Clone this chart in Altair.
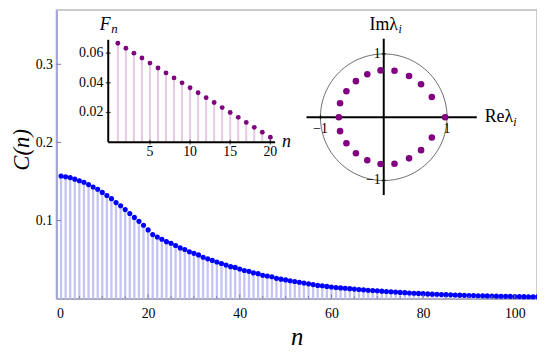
import altair as alt
import pandas as pd

# ---------------- data ----------------
n_main = list(range(1, 106))
C_vals = [
    0.157, 0.156, 0.155, 0.153, 0.151, 0.149, 0.146, 0.143, 0.140, 0.136,
    0.132, 0.128, 0.123, 0.119, 0.114, 0.109, 0.104, 0.099, 0.094, 0.088,
    0.082, 0.079, 0.076, 0.073, 0.071, 0.068, 0.065, 0.063, 0.060, 0.058,
    0.056, 0.053, 0.051, 0.049, 0.047, 0.045, 0.043, 0.041, 0.040, 0.038,
    0.036, 0.035, 0.033, 0.032, 0.030, 0.029, 0.028, 0.026, 0.025, 0.024,
    0.023, 0.022, 0.021, 0.020, 0.019, 0.018, 0.017, 0.0165, 0.0157, 0.0150,
    0.0143, 0.0138, 0.0133, 0.0128, 0.0123, 0.0118, 0.0113, 0.0108, 0.0104, 0.0100,
    0.0096, 0.0092, 0.0088, 0.0084, 0.0080, 0.0077, 0.0073, 0.0070, 0.0067, 0.0064,
    0.0061, 0.0058, 0.0056, 0.0053, 0.0051, 0.0049, 0.0047, 0.0045, 0.0043, 0.0041,
    0.0040, 0.0038, 0.0036, 0.0035, 0.0034, 0.0032, 0.0031, 0.0030, 0.0029, 0.0028,
    0.0027, 0.0026, 0.0025, 0.0024, 0.0023,
]
main_x_ticks = [0, 20, 40, 60, 80, 100]
main_y_ticks = [0.1, 0.2, 0.3]
main_x_minor = list(range(5, 105, 5))

n_inset = list(range(1, 21))
F_vals = [0.0667, 0.0633, 0.0600, 0.0567, 0.0533, 0.0500, 0.0467, 0.0433, 0.0400, 0.0367,
          0.0333, 0.0300, 0.0267, 0.0233, 0.0200, 0.0167, 0.0133, 0.0100, 0.0067, 0.0033]
inset_x_ticks = [5, 10, 15, 20]
inset_y_ticks = [0.02, 0.04, 0.06]

eig_re = [0.97, 0.76, 0.59, 0.40, 0.17, -0.05, -0.26, -0.44, -0.59, -0.69,
          -0.71, -0.69, -0.59, -0.44, -0.26, -0.05, 0.17, 0.40, 0.59, 0.76]
eig_im = [0.0, 0.32, 0.52, 0.65, 0.735, 0.74, 0.68, 0.57, 0.41, 0.22,
          0.0, -0.22, -0.41, -0.57, -0.68, -0.74, -0.735, -0.65, -0.52, -0.32]
circle_ticks_x = [-1, 1]
circle_ticks_y = [-1, 1]

# ---------------- style ----------------
SERIF = "Liberation Serif"
W, H = 486, 292
one = pd.DataFrame({"a": [0]})

# ---------------- main plot ----------------
xs_main = alt.Scale(domain=[0, 104.85], range=[0, W], nice=False, zero=False)
ys_main = alt.Scale(domain=[0, 0.3696], range=[H, 0], nice=False, zero=False)
x_axis = alt.Axis(values=main_x_ticks, format="d", ticks=False, grid=False,
                  labelFont=SERIF, labelFontSize=14, labelColor="black", labelPadding=8,
                  domainColor="#8c8cb4", domainWidth=1,
                  title="n", titleFont=SERIF, titleFontSize=25, titleFontStyle="italic",
                  titleFontWeight="normal", titleColor="black",
                  titleBaseline="alphabetic", titleY=46)
y_axis = alt.Axis(values=main_y_ticks, format=".1f", ticks=False, grid=False,
                  labelFont=SERIF, labelFontSize=14, labelColor="black", labelPadding=4,
                  domainColor="#a4a4dc", domainWidth=2,
                  title="C(n)", titleFont=SERIF, titleFontSize=23, titleFontStyle="italic",
                  titleFontWeight="normal", titleColor="black", titleAngle=-90,
                  titleBaseline="alphabetic", titleAlign="center", titleX=-28, titleY=141)

main_df = pd.DataFrame({"n": n_main, "C": C_vals})
mbase = alt.Chart(main_df)
m_stems = mbase.mark_rule(color="#c4c4f4", strokeWidth=2.3).encode(
    x=alt.X("n:Q", scale=xs_main, axis=x_axis),
    y=alt.Y("C:Q", scale=ys_main, axis=y_axis),
    y2=alt.Y2Datum(0),
)
m_dots = mbase.mark_circle(color="#0000ff", size=27, opacity=1).encode(
    x=alt.X("n:Q", scale=xs_main, axis=x_axis),
    y=alt.Y("C:Q", scale=ys_main, axis=y_axis),
)
m_xticks = alt.Chart(pd.DataFrame({"t": main_x_minor})).transform_calculate(
    z="0", L="datum.t % 20 == 0 ? 0.0055 : 0.0032"
).mark_rule(color="#7c7ca4", strokeWidth=1).encode(
    x=alt.X("t:Q", scale=xs_main, axis=x_axis),
    y=alt.Y("z:Q", scale=ys_main, axis=y_axis),
    y2="L:Q",
)
m_yticks = alt.Chart(pd.DataFrame({"t": main_y_ticks})).transform_calculate(
    z="0", L="1.0"
).mark_rule(color="#7c7ca4", strokeWidth=1).encode(
    x=alt.X("z:Q", scale=xs_main, axis=x_axis),
    x2="L:Q",
    y=alt.Y("t:Q", scale=ys_main, axis=y_axis),
)
main = alt.layer(m_stems, m_dots, m_xticks, m_yticks)

# ---------------- inset 1: F_n ----------------
xs1 = alt.Scale(domain=[0, 20], range=[54, 216.3], nice=False, zero=False)
ys1 = alt.Scale(domain=[0, 0.06], range=[133.7, 43.7], nice=False, zero=False)
f_df = pd.DataFrame({"n": n_inset, "F": F_vals})
fbase = alt.Chart(f_df)
f_stems = fbase.mark_rule(color="#e8c8e8", strokeWidth=2).encode(
    x=alt.X("n:Q", scale=xs1, axis=None),
    y=alt.Y("F:Q", scale=ys1, axis=None),
    y2=alt.Y2Datum(0),
)
f_dots = fbase.mark_circle(color="#800080", size=24, opacity=1).encode(
    x=alt.X("n:Q", scale=xs1, axis=None),
    y=alt.Y("F:Q", scale=ys1, axis=None),
)
f_xaxis = alt.Chart(one).mark_rule(color="black", strokeWidth=2).encode(
    x=alt.XDatum(-0.2, scale=xs1, axis=None, type="quantitative"),
    x2=alt.X2Datum(20.6),
    y=alt.YDatum(0, scale=ys1, axis=None, type="quantitative"),
)
f_yaxis = alt.Chart(one).mark_rule(color="black", strokeWidth=2).encode(
    x=alt.XDatum(-0.2, scale=xs1, axis=None, type="quantitative"),
    y=alt.YDatum(0, scale=ys1, axis=None, type="quantitative"),
    y2=alt.Y2Datum(0.069),
)
fx_df = pd.DataFrame({"t": inset_x_ticks})
fy_df = pd.DataFrame({"t": inset_y_ticks})
f_xt = alt.Chart(fx_df).mark_tick(orient="vertical", color="black", size=5, thickness=1.2).encode(
    x=alt.X("t:Q", scale=xs1, axis=None),
    y=alt.YDatum(0, scale=ys1, axis=None, type="quantitative"),
)
f_yt = alt.Chart(fy_df).mark_tick(orient="horizontal", color="black", size=5, thickness=1.2).encode(
    x=alt.XDatum(-0.2, scale=xs1, axis=None, type="quantitative"),
    y=alt.Y("t:Q", scale=ys1, axis=None),
)
f_xl = alt.Chart(fx_df).mark_text(font=SERIF, fontSize=14, color="black", baseline="top", dy=3).encode(
    x=alt.X("t:Q", scale=xs1, axis=None),
    y=alt.YDatum(0, scale=ys1, axis=None, type="quantitative"),
    text=alt.Text("t:Q", format="d"),
)
f_yl = alt.Chart(fy_df).mark_text(font=SERIF, fontSize=14, color="black", align="right",
                                  baseline="middle", dx=-5).encode(
    x=alt.XDatum(-0.2, scale=xs1, axis=None, type="quantitative"),
    y=alt.Y("t:Q", scale=ys1, axis=None),
    text=alt.Text("t:Q", format=".2f"),
)
f_title_F = alt.Chart(one).mark_text(text="F", font=SERIF, fontSize=18, fontStyle="italic",
                                     color="black", align="center", baseline="alphabetic",
                                     dx=-3, dy=-10).encode(
    x=alt.XDatum(-0.2, scale=xs1, axis=None, type="quantitative"),
    y=alt.YDatum(0.069, scale=ys1, axis=None, type="quantitative"),
)
f_title_n = alt.Chart(one).mark_text(text="n", font=SERIF, fontSize=13, fontStyle="italic",
                                     color="black", align="left", baseline="alphabetic",
                                     dx=3, dy=-7).encode(
    x=alt.XDatum(-0.2, scale=xs1, axis=None, type="quantitative"),
    y=alt.YDatum(0.069, scale=ys1, axis=None, type="quantitative"),
)
f_xlabel = alt.Chart(one).mark_text(text="n", font=SERIF, fontSize=18, fontStyle="italic",
                                    color="black", align="left", baseline="alphabetic",
                                    dx=7, dy=5).encode(
    x=alt.XDatum(20.6, scale=xs1, axis=None, type="quantitative"),
    y=alt.YDatum(0, scale=ys1, axis=None, type="quantitative"),
)
inset1 = alt.layer(f_stems, f_xaxis, f_yaxis, f_xt, f_yt, f_dots, f_xl, f_yl,
                   f_title_F, f_title_n, f_xlabel)

# ---------------- inset 2: eigenvalues on unit circle ----------------
xs2 = alt.Scale(domain=[-1, 1], range=[267, 395], nice=False, zero=False)
ys2 = alt.Scale(domain=[-1, 1], range=[172.5, 44.5], nice=False, zero=False)
circ = alt.Chart(alt.sequence(0, 362, 2, as_="t")).transform_calculate(
    cx="cos(datum.t*PI/180)", cy="sin(datum.t*PI/180)"
).mark_line(color="#444444", strokeWidth=0.8).encode(
    x=alt.X("cx:Q", scale=xs2, axis=None),
    y=alt.Y("cy:Q", scale=ys2, axis=None),
    order="t:Q",
)
c_hax = alt.Chart(one).mark_rule(color="black", strokeWidth=2).encode(
    x=alt.XDatum(-1.22, scale=xs2, axis=None, type="quantitative"),
    x2=alt.X2Datum(1.47),
    y=alt.YDatum(0, scale=ys2, axis=None, type="quantitative"),
)
c_vax = alt.Chart(one).mark_rule(color="black", strokeWidth=2).encode(
    x=alt.XDatum(0, scale=xs2, axis=None, type="quantitative"),
    y=alt.YDatum(-1.23, scale=ys2, axis=None, type="quantitative"),
    y2=alt.Y2Datum(1.24),
)
cx_df = pd.DataFrame({"t": circle_ticks_x})
cy_df = pd.DataFrame({"t": circle_ticks_y})
c_xt = alt.Chart(cx_df).mark_tick(orient="vertical", color="black", size=4, thickness=1.5).encode(
    x=alt.X("t:Q", scale=xs2, axis=None),
    y=alt.YDatum(0, scale=ys2, axis=None, type="quantitative"),
)
c_yt = alt.Chart(cy_df).mark_tick(orient="horizontal", color="black", size=4, thickness=1.5).encode(
    x=alt.XDatum(0, scale=xs2, axis=None, type="quantitative"),
    y=alt.Y("t:Q", scale=ys2, axis=None),
)
eig_df = pd.DataFrame({"re": eig_re, "im": eig_im})
c_dots = alt.Chart(eig_df).mark_circle(color="#800080", size=44, opacity=1).encode(
    x=alt.X("re:Q", scale=xs2, axis=None),
    y=alt.Y("im:Q", scale=ys2, axis=None),
)
c_xl = alt.Chart(cx_df).transform_calculate(
    lab="datum.t < 0 ? '\u22121' : '1'"
).mark_text(font=SERIF, fontSize=14, color="black", baseline="middle", dy=12).encode(
    x=alt.X("t:Q", scale=xs2, axis=None),
    y=alt.YDatum(0, scale=ys2, axis=None, type="quantitative"),
    text="lab:N",
)
c_yl = alt.Chart(cy_df).transform_calculate(
    lab="datum.t < 0 ? '\u22121' : '1'"
).mark_text(font=SERIF, fontSize=14, color="black", baseline="middle", align="right", dx=-3).encode(
    x=alt.XDatum(0, scale=xs2, axis=None, type="quantitative"),
    y=alt.Y("t:Q", scale=ys2, axis=None),
    text="lab:N",
)
c_im = alt.Chart(one).mark_text(text="Im\u03bb", font=SERIF, fontSize=18, color="black",
                                align="center", baseline="alphabetic", dx=0, dy=-9).encode(
    x=alt.XDatum(0, scale=xs2, axis=None, type="quantitative"),
    y=alt.YDatum(1.24, scale=ys2, axis=None, type="quantitative"),
)
c_im_i = alt.Chart(one).mark_text(text="i", font=SERIF, fontSize=12, fontStyle="italic", color="black",
                                  align="left", baseline="alphabetic", dx=15, dy=-6).encode(
    x=alt.XDatum(0, scale=xs2, axis=None, type="quantitative"),
    y=alt.YDatum(1.24, scale=ys2, axis=None, type="quantitative"),
)
c_re = alt.Chart(one).mark_text(text="Re\u03bb", font=SERIF, fontSize=18, color="black",
                                align="left", baseline="alphabetic", dx=8, dy=5).encode(
    x=alt.XDatum(1.47, scale=xs2, axis=None, type="quantitative"),
    y=alt.YDatum(0, scale=ys2, axis=None, type="quantitative"),
)
c_re_i = alt.Chart(one).mark_text(text="i", font=SERIF, fontSize=12, fontStyle="italic", color="black",
                                  align="left", baseline="alphabetic", dx=37, dy=9).encode(
    x=alt.XDatum(1.47, scale=xs2, axis=None, type="quantitative"),
    y=alt.YDatum(0, scale=ys2, axis=None, type="quantitative"),
)
inset2 = alt.layer(circ, c_hax, c_vax, c_xt, c_yt, c_dots, c_xl, c_yl,
                   c_im, c_im_i, c_re, c_re_i)

chart = alt.layer(main, inset1, inset2).resolve_scale(
    x="independent", y="independent"
).properties(
    width=W, height=H,
    autosize=alt.AutoSizeParams(type="none"),
    padding={"left": 49, "top": 0, "right": 0, "bottom": 54},
    background="white",
).configure_view(stroke="#bbbbbb", strokeWidth=1.5)

chart.save("out.html", embed_options={"renderer": "svg", "actions": False})
